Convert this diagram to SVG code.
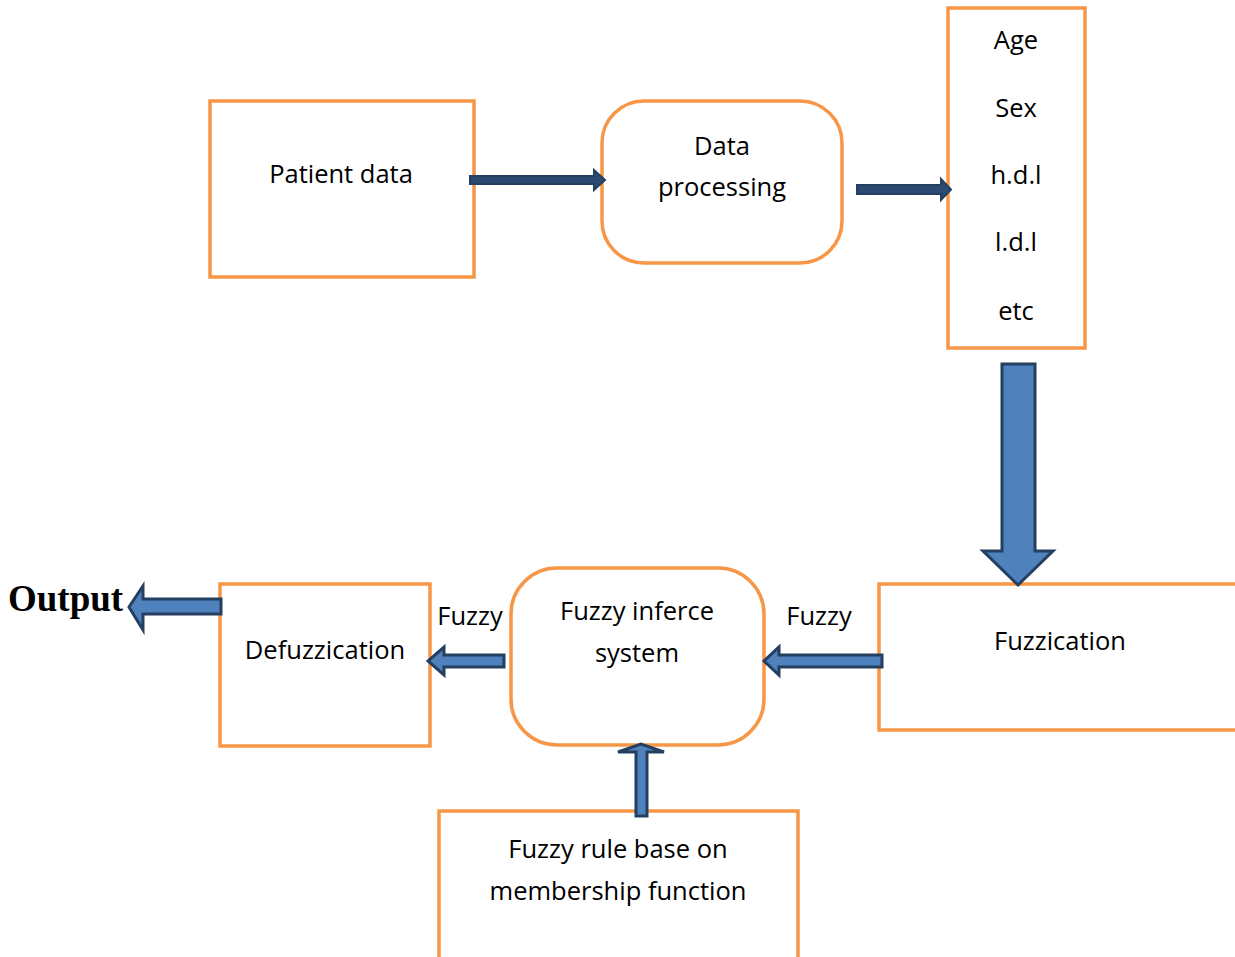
<svg xmlns="http://www.w3.org/2000/svg" width="1235" height="957" viewBox="0 0 1235 957">
<style>
.box{fill:#fff;stroke:#F79646;stroke-width:3.5}
.t{font-family:"Open Sans","Liberation Sans",sans-serif;font-size:25.5px;fill:#000;text-anchor:middle}
.arr{fill:#4F81BD;stroke:#243F60;stroke-width:3;stroke-linejoin:miter}
.darr{fill:#2A4A74;stroke:#243F60;stroke-width:2}
</style>
<rect width="1235" height="957" fill="#fff"/>
<g id="patient"><rect class="box" x="210" y="101" width="264" height="176"/><text class="t" x="341" y="183">Patient data</text></g>
<g id="processing"><rect class="box" x="602" y="101" width="240" height="162" rx="42"/><text class="t" x="722" y="155">Data</text><text class="t" x="722" y="196">processing</text></g>
<g id="attrs"><rect class="box" x="948" y="8" width="137" height="340"/>
<text class="t" x="1016" y="49">Age</text><text class="t" x="1016" y="117">Sex</text><text class="t" x="1016" y="184">h.d.l</text><text class="t" x="1016" y="251">l.d.l</text><text class="t" x="1016" y="320">etc</text></g>
<g id="fuzzication"><rect class="box" x="879" y="584" width="370" height="146"/><text class="t" x="1060" y="650">Fuzzication</text></g>
<g id="inference"><rect class="box" x="511" y="568" width="253" height="177" rx="46"/><text class="t" x="637" y="620">Fuzzy inferce</text><text class="t" x="637" y="662">system</text></g>
<g id="defuzz"><rect class="box" x="220" y="584" width="210" height="162"/><text class="t" x="325" y="659">Defuzzication</text></g>
<g id="rulebase"><rect class="box" x="439" y="811" width="359" height="160"/><text class="t" x="618" y="858">Fuzzy rule base on</text><text class="t" x="618" y="900">membership function</text></g>
<g id="connectors">
<polygon class="darr" points="470,176 594,176 594,170 605,180 594,190 594,184 470,184"/>
<polygon class="darr" points="857,185 941,185 941,179 951,189.5 941,200 941,194 857,194"/>
<polygon class="arr" points="1002,364 1035,364 1035,551 1053,551 1018,585 983,551 1002,551"/>
<polygon class="arr" points="221,599 143,599 143,586 129,607 143,630 143,614 221,614"/>
<polygon class="arr" points="504,655 444,655 444,647 428,661 444,675 444,667 504,667"/>
<polygon class="arr" points="882,655 779,655 779,647 764,661 779,675 779,667 882,667"/>
<polygon class="arr" points="636,816 636,752 618,752 641,744 664,752 647,752 647,816"/>
<text x="470" y="625" class="t">Fuzzy</text>
<text x="819" y="625" class="t">Fuzzy</text>
<text x="8" y="611" font-family="Liberation Serif,serif" font-weight="bold" font-size="37">Output</text>
</g>
</svg>
